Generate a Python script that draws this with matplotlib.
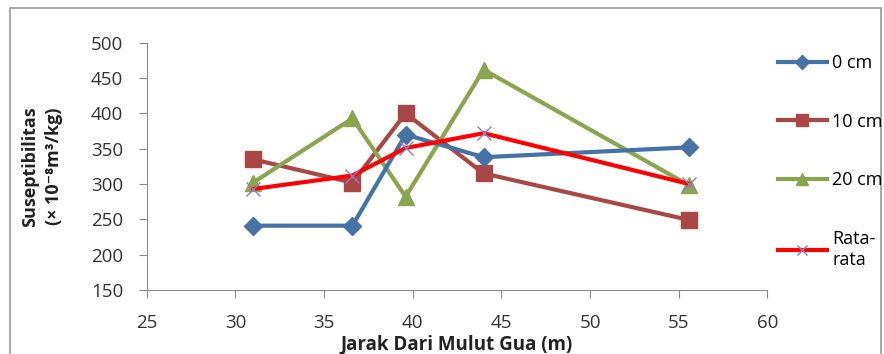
import matplotlib.pyplot as plt
from matplotlib.patches import Rectangle

jarak = [31, 36.6, 39.6, 44, 55.6]
cm0 = [241, 241, 370, 338, 352]
cm10 = [335, 302, 400, 315, 249]
cm20 = [302, 393, 282, 462, 298]
rata = [293, 312, 351, 372, 300]

labels = ['0 cm', '10 cm', '20 cm', 'Rata-\nrata']

plt.rcParams['font.family'] = ['Open Sans', 'DejaVu Sans']

fig = plt.figure(figsize=(8.84, 3.54), dpi=100)
ax = fig.add_axes([0.166, 0.181, 0.702, 0.698])

ax.plot(jarak, cm0, color='#4572A7', lw=3, marker='D', ms=9, label=labels[0], zorder=4)
ax.plot(jarak, cm10, color='#AA4643', lw=3, marker='s', ms=11, label=labels[1], zorder=3)
ax.plot(jarak, cm20, color='#89A54E', lw=3, marker='^', ms=11, label=labels[2], zorder=3)
ax.plot(jarak, rata, color='#FF0000', lw=3, marker='x', ms=10, mec='#8E7CC3',
        mew=1, label=labels[3], zorder=5)

ax.set_xlim(25, 60)
ax.set_ylim(150, 500)
ax.set_xticks(range(25, 61, 5))
ax.set_yticks(range(150, 501, 50))
for s in ['top', 'right']:
    ax.spines[s].set_visible(False)
for s in ['left', 'bottom']:
    ax.spines[s].set_color('#8a8a8a')
ax.tick_params(direction='out', length=6, color='#8a8a8a', labelsize=13.5,
               labelcolor='#333333')
ax.tick_params(axis='x', pad=11)
ax.tick_params(axis='y', pad=11)

ax.set_xlabel('Jarak Dari Mulut Gua (m)', fontsize=13.5, fontweight='bold',
              labelpad=2, color='#222222')
ax.set_ylabel('Suseptibilitas\n(× 10⁻⁸m³/kg)', fontsize=13,
              fontweight='bold', labelpad=20, color='#222222', linespacing=1.4)

fig.legend(loc='upper left', bbox_to_anchor=(0.872, 0.868), frameon=False,
           fontsize=13, labelspacing=2.25, handlelength=2.7, handletextpad=0.3,
           markerscale=0.75, borderaxespad=0)

fig.patches.append(Rectangle((0.011, -0.1), 0.986, 1.078, transform=fig.transFigure,
                             fill=False, edgecolor='#9a9a9a', lw=1.2))

fig.savefig('out.png', dpi=100)
